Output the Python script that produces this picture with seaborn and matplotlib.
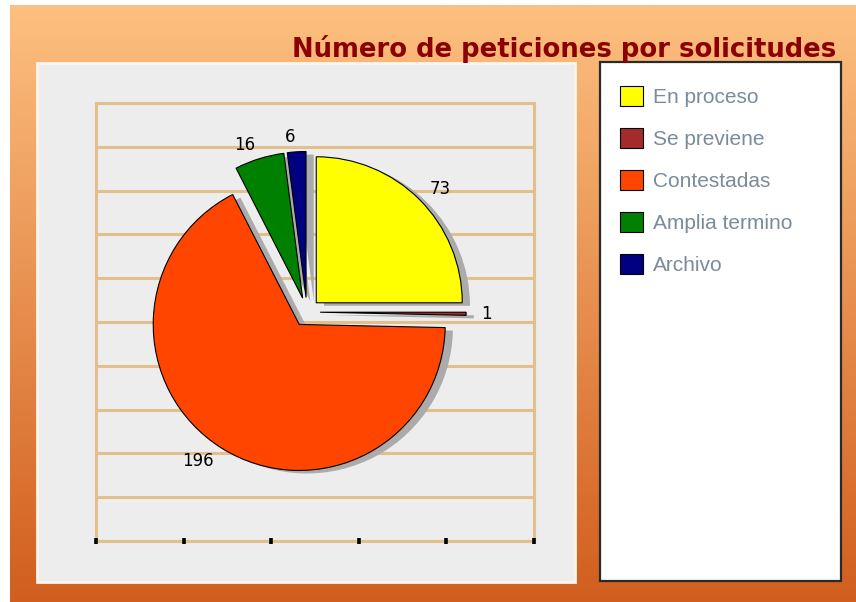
import matplotlib.pyplot as plt
import numpy as np
import seaborn as sns
from matplotlib.patches import Rectangle

# Data
categories = ['En proceso', 'Se previene', 'Contestadas', 'Amplia termino', 'Archivo']
values = [73, 1, 196, 16, 6]
colors = ['#FFFF00', '#A52A2A', '#FF4500', '#008000', '#000080']
title = 'Número de peticiones por solicitudes'

sns.set_theme(style='white')
plt.rcParams['font.family'] = ['DejaVu Sans']

W, H = 856, 602
fig = plt.figure(figsize=(W / 100, H / 100), dpi=100)


def box(x0, y0, x1, y1):
    # pixel box (origin top-left) -> figure fraction rect
    return [x0 / W, 1 - y1 / H, (x1 - x0) / W, (y1 - y0) / H]


# Background: orange gradient, panel and legend frame (pixel coords)
bg = fig.add_axes([0, 0, 1, 1])
bg.set_xlim(0, W)
bg.set_ylim(H, 0)
bg.axis('off')
top = np.array([253, 192, 128]) / 255
bottom = np.array([209, 94, 30]) / 255
t = np.linspace(0, 1, 256)[:, None, None]
grad = top * (1 - t) + bottom * t
bg.imshow(grad, aspect='auto', extent=(10, W, H, 5), zorder=0)
bg.add_patch(Rectangle((37, 63), 538, 519, facecolor='#EDEDED',
                       edgecolor='#FBF4EC', lw=2, zorder=1))
bg.add_patch(Rectangle((600, 62), 241, 519, facecolor='white',
                       edgecolor='#2A2A2A', lw=1.6, zorder=1))
bg.text(836, 57, title, ha='right', va='baseline', color='#8B0000',
        fontsize=18.6, fontweight='bold', zorder=2)

# Grid box
tan = '#E2C08E'
ax = fig.add_axes(box(96, 103, 534, 541))
ax.set_facecolor('none')
ax.set_xlim(0, 5)
ax.set_ylim(0, 10)
ax.set_xticks(range(6))
ax.set_yticks(range(11))
ax.set_xticklabels([])
ax.set_yticklabels([])
ax.grid(axis='y', color=tan, lw=2.2)
ax.grid(axis='x', visible=False)
for s in ax.spines.values():
    s.set_color(tan)
    s.set_linewidth(2.2)
    s.set_zorder(1)
ax.xaxis.set_zorder(3)
ax.tick_params(axis='x', bottom=True, color='black', length=5, width=2.6,
               direction='inout')
ax.tick_params(axis='y', left=False)

# Pie
pax = fig.add_axes(box(96, 103, 534, 541))
pax.set_facecolor('none')
wedges, texts = pax.pie(
    values, labels=[str(v) for v in values], colors=colors,
    explode=[0.09, 0.09, 0.1, 0.1, 0.1], startangle=90, counterclock=False,
    center=(-0.055, 0.068), radius=1, labeldistance=1.1,
    wedgeprops=dict(edgecolor='black', linewidth=0.8),
    textprops=dict(fontsize=12, color='black'),
    shadow=dict(ox=0.038, oy=-0.015, facecolor='#ABABAB', edgecolor='none', alpha=1),
)
pax.set_xlim(-1.5, 1.5)
pax.set_ylim(-1.5, 1.5)
pax.axis('off')

# Legend
leg = fig.legend(wedges, categories, loc='upper left',
                 bbox_to_anchor=(620 / W, 1 - 86 / H), bbox_transform=fig.transFigure,
                 frameon=False, borderpad=0, borderaxespad=0,
                 handlelength=1.1, handleheight=1.1, handletextpad=0.5,
                 labelspacing=1.0, prop=dict(family='Liberation Sans', size=15))
for txt in leg.get_texts():
    txt.set_color('#7A8B9B')

fig.savefig('out.png', dpi=100)
